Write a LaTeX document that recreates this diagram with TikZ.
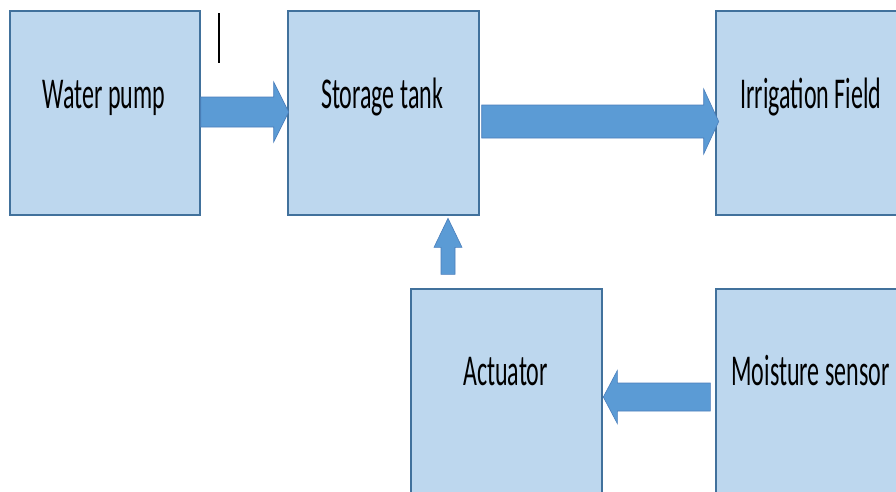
\documentclass[tikz,border=0pt]{standalone}
\usepackage{graphicx}
\usepackage{fontspec}
\setmainfont{Carlito}
\usetikzlibrary{calc}
\definecolor{boxfill}{HTML}{BDD7EE}
\definecolor{boxline}{HTML}{41719C}
\definecolor{arrfill}{HTML}{5B9BD5}
\definecolor{arrline}{HTML}{4A7EBB}
\newcommand\nar[1]{\scalebox{0.545}[1]{#1}}
\tikzset{
  blk/.style={draw=boxline, fill=boxfill, line width=1.4pt, inner sep=0pt},
  lbl/.style={anchor=base, inner sep=0pt, font=\fontsize{44}{44}\selectfont},
  barr/.style={fill=arrfill, draw=arrline, line width=0.6pt, line join=miter},
}
\begin{document}
\begin{tikzpicture}[x=1pt,y=-1pt]
\useasboundingbox (0,0) rectangle (896,491);
\clip (0,0) rectangle (896,491);
% boxes
\node[blk, minimum width=190pt, minimum height=204pt] (wp) at (105,113) {};
\node[blk, minimum width=191pt, minimum height=204pt] (st) at (383.5,113) {};
\node[blk, minimum width=190pt, minimum height=204pt] (irr) at (811,113) {};
\node[blk, minimum width=191pt, minimum height=215pt] (act) at (506.5,396.5) {};
\node[blk, minimum width=190pt, minimum height=215pt] (ms) at (811,396.5) {};
% labels
\node[lbl] (wpt) at (104,108) {\nar{Water pump}};
\node[lbl] (stt) at (382,108) {\nar{Storage tank}};
\node[lbl] (irrt) at (811,108) {\nar{Irrigation Field}};
\node[lbl] (actt) at (505.5,385) {\nar{Actuator}};
\node[lbl] (mst) at (810.5,385) {\nar{Moisture sensor}};
% block arrows
\draw[barr] ($(wp.east)+(0,-1)$) ++(0,-15) -- ++(73,0) -- ++(0,-15) -- ++(15,30) -- ++(-15,30) -- ++(0,-15) -- ++(-73,0) -- cycle;
\draw[barr] ($(st.east)+(2,8.5)$) ++(0,-16.5) -- ++(222,0) -- ++(0,-16) -- ++(15,32.5) -- ++(-15,32.5) -- ++(0,-16) -- ++(-222,0) -- cycle;
\draw[barr] ($(act.north)+(-58.5,-14)$) ++(-7,0) -- ++(0,-27) -- ++(-7,0) -- ++(14,-29) -- ++(14,29) -- ++(-7,0) -- ++(0,27) -- cycle;
\draw[barr] ($(ms.west)+(-5,1)$) ++(0,-14.5) -- ++(-93,0) -- ++(0,-12.5) -- ++(-14,26.5) -- ++(14,26.5) -- ++(0,-12.5) -- ++(93,0) -- cycle;
% text cursor mark
\draw[black, line width=1.3pt] (219,13) -- (219,63);
\end{tikzpicture}
\end{document}
